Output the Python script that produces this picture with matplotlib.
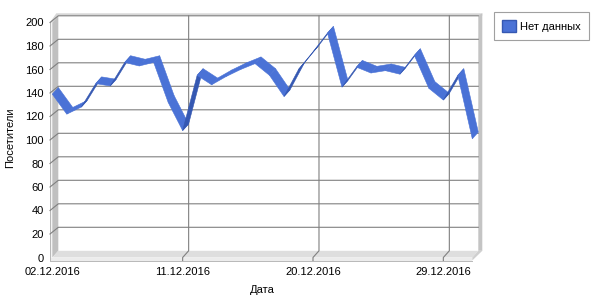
import matplotlib
matplotlib.use("Agg")
import matplotlib.pyplot as plt
from matplotlib.patches import Polygon, Patch
from matplotlib.lines import Line2D

# ---------------- data ----------------
dates = ["02.12.2016", "03.12.2016", "04.12.2016", "05.12.2016", "06.12.2016",
         "07.12.2016", "08.12.2016", "09.12.2016", "10.12.2016", "11.12.2016",
         "12.12.2016", "13.12.2016", "14.12.2016", "15.12.2016", "16.12.2016",
         "17.12.2016", "18.12.2016", "19.12.2016", "20.12.2016", "21.12.2016",
         "22.12.2016", "23.12.2016", "24.12.2016", "25.12.2016", "26.12.2016",
         "27.12.2016", "28.12.2016", "29.12.2016", "30.12.2016", "31.12.2016"]
visitors = [139, 122, 128, 148, 146, 166, 163, 166, 132, 108,
            155, 147, 154, 160, 165, 155, 137, 160, 175, 191,
            145, 162, 157, 159, 156, 172, 144, 134, 155, 101]
x_tick_labels = ["02.12.2016", "11.12.2016", "20.12.2016", "29.12.2016"]
y_ticks = [0, 20, 40, 60, 80, 100, 120, 140, 160, 180, 200]
series_name = "Нет данных"
x_title = "Дата"
y_title = "Посетители"

# ---------------- style ----------------
plt.rcParams['font.family'] = ['Liberation Sans', 'DejaVu Sans']
FS = 8
GRID = '#808080'
TOP_FACE = '#4a72d6'
UNDER_FACE = '#3558b2'

W, H = 600, 300
fig = plt.figure(figsize=(6, 3), dpi=100)
fig.patch.set_facecolor('white')

# front plane of the 3D box in pixels
fx0, fx1 = 52.3, 472.3
fy0, fy1 = 257.5, 22.5
ax = fig.add_axes([fx0 / W, (H - fy0) / H, (fx1 - fx0) / W, (fy0 - fy1) / H])
n = len(visitors)
x_idx = list(range(n))
ymax = y_ticks[-1]
ax.set_xlim(0, n - 1)
ax.set_ylim(0, ymax)
for s in ax.spines.values():
    s.set_visible(False)
ax.patch.set_visible(False)

px = (n - 1) / (fx1 - fx0)      # data units per pixel (x)
py = ymax / (fy0 - fy1)         # data units per pixel (y)
DX, DY = 6 * px, 6.7 * py       # depth offset
last = n - 1

def poly(pts, fc, ec='none', lw=0.0, z=1):
    ax.add_patch(Polygon(pts, closed=True, facecolor=fc, edgecolor=ec,
                         linewidth=lw, zorder=z, clip_on=False))

def line(xs, ys, c=GRID, lw=0.8, z=2):
    ax.add_line(Line2D(xs, ys, color=c, linewidth=lw, zorder=z, clip_on=False))

# left wall inner face
poly([(0, 0), (0, ymax), (DX, ymax + DY), (DX, DY)], '#c0c0c0', z=1)
# left wall front edge
poly([(-2.3 * px, -3 * py), (-2.3 * px, ymax), (0, ymax), (0, -3 * py)], '#f4f4f4', z=1)
line([-2.3 * px, -2.3 * px], [-3 * py, ymax + 0.5 * py], c='#b8b8b8', lw=0.7, z=1.5)
# top band (wall thickness)
poly([(-2.3 * px, ymax), (DX - 2 * px, ymax + DY + 2.5 * py),
      (last + DX + 4 * px, ymax + DY + 2.5 * py), (last + DX + 4 * px, ymax + DY),
      (DX, ymax + DY), (0, ymax)], '#d6d6d6', z=1)
# right band
poly([(last + DX, DY), (last + DX, ymax + DY), (last + DX + 4 * px, ymax + DY + 2.5 * py),
      (last + DX + 4 * px, DY)], '#c4c4c4', z=1)
# floor top face
poly([(0, 0), (last, 0), (last + DX, DY), (DX, DY)], '#dedede', z=1)
# floor front face
poly([(-2.3 * px, -3 * py), (last, -3 * py), (last, 0), (-2.3 * px, 0)], '#ececec', z=1)
line([-2.3 * px, last], [-3 * py, -3 * py], c='#b8b8b8', lw=0.7, z=1.5)
# floor right side
poly([(last, -3 * py), (last + DX + 4 * px, DY), (last + DX, DY), (last, 0)], '#cfcfcf', z=1)

# grid lines (back wall + left wall diagonals)
for v in y_ticks[1:]:
    line([-2.3 * px, DX, last + DX], [v, v + DY, v + DY])
for i in x_idx[9::9]:
    line([i, i, i + DX, i + DX], [-3 * py, 0, DY, ymax + DY])

# ribbon
for i in range(n - 1):
    v0, v1 = visitors[i], visitors[i + 1]
    sx, sy = 1 / px, (v1 - v0) / py
    dxp, dyp = DX / px, DY / py
    cross = sx * dyp - sy * dxp
    col = TOP_FACE if cross > 0 else UNDER_FACE
    poly([(i, v0), (i + 1, v1), (i + 1 + DX, v1 + DY), (i + DX, v0 + DY)],
         col, ec=col, lw=0.4, z=3)

# ticks
ax.set_yticks(y_ticks)
ax.set_yticklabels([str(v) for v in y_ticks], fontsize=FS)
ax.set_xticks([dates.index(d) for d in x_tick_labels])
ax.set_xticklabels(x_tick_labels, fontsize=FS)
ax.tick_params(axis='y', length=0, pad=6)
ax.tick_params(axis='x', length=0, pad=6.5)

ax.set_xlabel(x_title, fontsize=FS)
ax.set_ylabel(y_title, fontsize=FS)
ax.xaxis.set_label_coords(0.5, -0.115)
ax.yaxis.set_label_coords(-0.088, 0.51)

leg = ax.legend(handles=[Patch(facecolor=TOP_FACE, edgecolor='#3558b2', label=series_name)],
                loc='upper left', bbox_to_anchor=(494 / W, 1 - 12 / H),
                bbox_transform=fig.transFigure, borderaxespad=0, fontsize=FS,
                handlelength=1.2, handleheight=1.2, handletextpad=0.4,
                borderpad=0.75, fancybox=False, framealpha=1)
leg.get_frame().set_edgecolor('#a0a0a0')
leg.get_frame().set_linewidth(0.8)

fig.savefig('out.png', dpi=100)
